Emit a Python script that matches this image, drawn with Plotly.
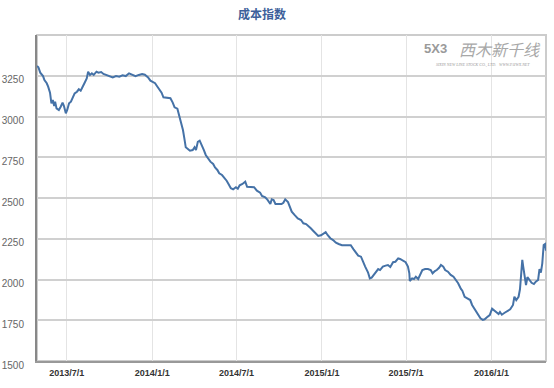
import pandas as pd
import plotly.graph_objects as go

base_date = "2013-07-01"
day_offsets = [
    -64, -61, -57, -54, -51, -48, -43, -40, -36, -33, -30, -27, -25, -22, -17, -13, -9, -6, -2, 1,
    5, 9, 13, 17, 22, 26, 30, 34, 38, 43, 46, 50, 54, 58, 64, 68, 74, 79, 85, 92,
    99, 106, 113, 120, 127, 134, 141, 148, 155, 162, 168, 175, 180, 185, 190, 194, 199, 204, 208, 215,
    223, 228, 232, 238, 242, 246, 250, 253, 256, 260, 265, 271, 275, 278, 282, 286, 291, 295, 299, 303,
    309, 315, 319, 324, 328, 334, 340, 344, 348, 353, 358, 364, 368, 372, 378, 384, 388, 395, 403, 409,
    416, 420, 427, 432, 438, 441, 445, 449, 456, 462, 466, 470, 476, 480, 484, 490, 497, 504, 509, 515,
    520, 525, 530, 536, 541, 547, 552, 557, 561, 567, 573, 579, 585, 592, 603, 611, 617, 621, 627, 633,
    637, 642, 648, 652, 656, 661, 665, 670, 674, 680, 686, 691, 696, 702, 707, 713, 717, 723, 729, 734,
    737, 738, 743, 747, 751, 756, 761, 765, 771, 777, 783, 787, 792, 796, 801, 805, 810, 814, 820, 826,
    832, 838, 842, 848, 851, 856, 862, 868, 872, 877, 881, 886, 890, 895, 899, 904, 910, 915, 920, 924,
    929, 932, 936, 942, 948, 954, 960, 963, 967, 972, 975, 978, 980, 982, 985, 988, 991, 996, 1000, 1005,
    1009, 1014, 1017, 1020, 1023, 1026, 1029, 1031,
]
cost_index = [
    3310, 3302, 3269, 3255, 3248, 3224, 3204, 3183, 3146, 3081, 3101, 3064, 3091, 3050, 3040, 3060, 3085, 3064, 3020, 3040,
    3081, 3091, 3121, 3142, 3152, 3167, 3158, 3187, 3204, 3234, 3275, 3255, 3265, 3255, 3275, 3269, 3273, 3261, 3255, 3244,
    3240, 3248, 3244, 3253, 3248, 3265, 3255, 3248, 3255, 3261, 3256, 3240, 3220, 3214, 3204, 3187, 3167, 3146, 3118, 3114,
    3112, 3085, 3056, 3048, 3009, 2968, 2917, 2866, 2811, 2802, 2790, 2794, 2811, 2794, 2845, 2852, 2823, 2794, 2764, 2744,
    2723, 2709, 2688, 2672, 2652, 2641, 2621, 2606, 2586, 2560, 2553, 2566, 2557, 2578, 2586, 2600, 2569, 2566, 2566, 2545,
    2533, 2512, 2504, 2488, 2463, 2492, 2488, 2463, 2463, 2463, 2471, 2492, 2475, 2443, 2416, 2396, 2375, 2365, 2345, 2340,
    2324, 2314, 2299, 2283, 2267, 2271, 2279, 2291, 2273, 2253, 2242, 2226, 2218, 2210, 2210, 2210, 2185, 2171, 2146, 2140,
    2109, 2079, 2044, 2007, 2011, 2028, 2048, 2064, 2058, 2079, 2085, 2089, 2077, 2106, 2109, 2130, 2126, 2114, 2106, 2079,
    2038, 1991, 2007, 2003, 2017, 2003, 2032, 2058, 2064, 2064, 2058, 2038, 2052, 2058, 2072, 2089, 2079, 2058, 2048, 2028,
    2017, 1997, 1977, 1942, 1931, 1894, 1885, 1874, 1844, 1823, 1802, 1782, 1762, 1752, 1756, 1768, 1782, 1821, 1809, 1796,
    1788, 1801, 1784, 1796, 1805, 1817, 1844, 1894, 1874, 1894, 1940, 2038, 2120, 2079, 2017, 1966, 2014, 1997, 1980, 1972,
    1987, 1997, 2063, 2042, 2099, 2212, 2218, 2177,
]
x_tick_dates = ["2013-07-01", "2014-01-01", "2014-07-01", "2015-01-01", "2015-07-01", "2016-01-01"]
x_tick_labels = ["2013/7/1", "2014/1/1", "2014/7/1", "2015/1/1", "2015/7/1", "2016/1/1"]
y_ticks = [1500, 1750, 2000, 2250, 2500, 2750, 3000, 3250]
title_text = "成本指数"

dates = pd.Timestamp(base_date) + pd.to_timedelta(day_offsets, unit="D")

fig = go.Figure()
fig.add_trace(go.Scatter(
    x=dates, y=cost_index, mode="lines",
    line=dict(color="#4572A7", width=2),
    hoverinfo="x+y", showlegend=False,
))

fig.update_layout(
    width=554, height=388,
    margin=dict(l=37, r=8, t=35, b=27, autoexpand=False),
    paper_bgcolor="white", plot_bgcolor="white",
    showlegend=False,
    font=dict(family="Liberation Sans, Arial, sans-serif"),
    shapes=[dict(type="rect", xref="paper", yref="paper", x0=0, y0=0, x1=1, y1=1,
                 line=dict(color="#cccccc", width=2), layer="below")],
    annotations=[
        dict(text="<b>" + title_text + "</b>", xref="paper", yref="paper",
             x=(262 - 37) / 509, y=1 + (35 - 14) / 326, xanchor="center", yanchor="middle",
             showarrow=False, font=dict(family="Noto Sans CJK SC", size=12, color="#3d5f9a")),
        dict(text="<b>5X3</b>", xref="paper", yref="paper",
             x=(435 - 37) / 509, y=1 - (49 - 35) / 326, xanchor="center", yanchor="middle",
             showarrow=False, font=dict(family="Liberation Sans", size=13, color="#9a9a9a")),
        dict(text="<i>西木新千线</i>", xref="paper", yref="paper",
             x=(500 - 37) / 509, y=1 - (49 - 35) / 326, xanchor="center", yanchor="middle",
             showarrow=False, font=dict(family="Noto Sans CJK SC", size=16, color="#a8a8a8")),
        dict(text="<i>SIXIN NEW LINE STOCK CO., LTD.   WWW.PAIWX.NET</i>", xref="paper", yref="paper",
             x=(483 - 37) / 509, y=1 - (65 - 35) / 326, xanchor="center", yanchor="middle",
             showarrow=False, font=dict(family="Liberation Serif", size=4, color="#9a9a9a")),
    ],
)

fig.update_xaxes(
    type="date", automargin=False,
    range=[pd.Timestamp(base_date) + pd.Timedelta(days=-64), pd.Timestamp(base_date) + pd.Timedelta(days=1031)],
    tickvals=x_tick_dates, ticktext=["<b>" + t + "</b>" for t in x_tick_labels],
    tickfont=dict(size=9, color="#333333"),
    showgrid=True, gridcolor="#e4e4e4", gridwidth=1,
    showline=True, linecolor="#999999", linewidth=2,
    ticks="", zeroline=False, ticklabelstandoff=2,
)
fig.update_yaxes(
    automargin=False,
    range=[1500, 3500],
    tickvals=y_ticks, ticktext=[str(v) for v in y_ticks],
    tickfont=dict(size=10, color="#666666"),
    showgrid=True, gridcolor="#d0d0d0", gridwidth=1.5,
    showline=True, linecolor="#888888", linewidth=2,
    ticks="", zeroline=False, ticklabelshift=4, ticklabelstandoff=9,
)

fig.write_html("out.html")
